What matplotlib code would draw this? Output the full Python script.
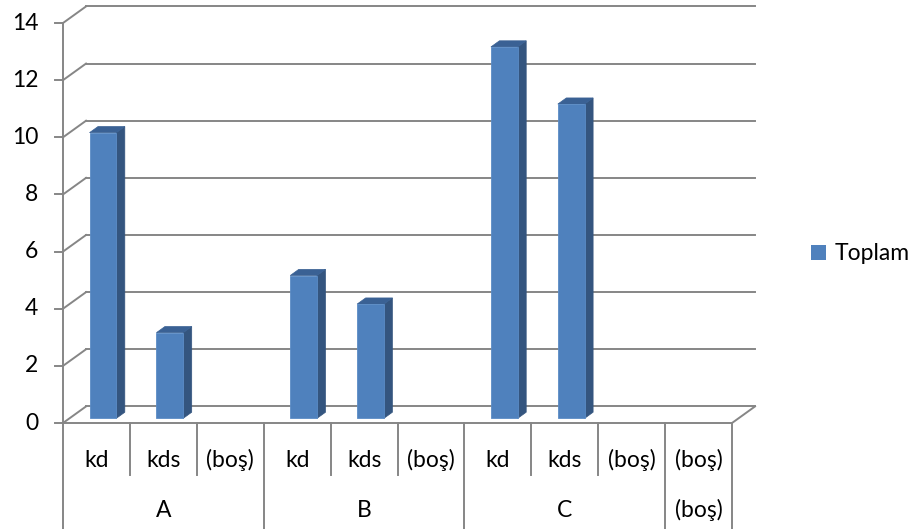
import matplotlib
matplotlib.use("Agg")
import matplotlib.pyplot as plt
from matplotlib.patches import Polygon

plt.rcParams['font.family'] = ['Lato', 'DejaVu Sans']

# data
groups = ['A', 'B', 'C', '(boş)']
subcats = [['kd', 'kds', '(boş)'], ['kd', 'kds', '(boş)'], ['kd', 'kds', '(boş)'], ['(boş)']]
values = [[10, 3, None], [5, 4, None], [13, 11, None], [None]]
yticks = [0, 2, 4, 6, 8, 10, 12, 14]
series_name = 'Toplam'

FRONT = '#4F81BD'
SIDE = '#34557F'
TOP = '#3A6194'
GRID = '#868686'

# depth offset of back wall, in data units
DX, DY = 0.344, 0.58

fig = plt.figure(figsize=(9.2, 5.29), dpi=100)
ax = fig.add_axes([0, 0, 1, 1])
ax.set_xlim(-0.942, 12.81)
ax.set_ylim(-3.71, 14.805)
ax.axis('off')

n = sum(len(s) for s in subcats)
lw = 1.4
fs = 16.5

# gridlines on back wall + diagonals on left wall
for t in yticks:
    ax.plot([DX, n + DX], [t + DY, t + DY], color=GRID, lw=lw, zorder=1)
    ax.plot([0, DX], [t, t + DY], color=GRID, lw=lw, zorder=1)
    ax.plot([-0.12, 0], [t, t], color=GRID, lw=lw, zorder=1)
    ax.text(-0.37, t, str(t), ha='right', va='center', fontsize=fs, color='#000000')

# floor edges
ax.plot([0, n], [0, 0], color=GRID, lw=lw, zorder=1)
ax.plot([n, n + DX], [0, DY], color=GRID, lw=lw, zorder=1)
ax.plot([0, 0], [ax.get_ylim()[0], yticks[-1]], color=GRID, lw=lw, zorder=1)

# bars
d0, d1 = 0.28, 0.65
bw = 0.4
i = 0
for gi, g in enumerate(groups):
    for si, s in enumerate(subcats[gi]):
        v = values[gi][si]
        if v is not None:
            x0 = i + 0.5 - bw / 2
            x1 = x0 + bw
            fx, fy = d0 * DX, d0 * DY
            bx, by = d1 * DX, d1 * DY
            front = [(x0 + fx, fy), (x1 + fx, fy), (x1 + fx, v + fy), (x0 + fx, v + fy)]
            side = [(x1 + fx, fy), (x1 + bx, by), (x1 + bx, v + by), (x1 + fx, v + fy)]
            top = [(x0 + fx, v + fy), (x1 + fx, v + fy), (x1 + bx, v + by), (x0 + bx, v + by)]
            ax.add_patch(Polygon(side, closed=True, facecolor=SIDE, edgecolor=SIDE, lw=0.5, zorder=3))
            ax.add_patch(Polygon(top, closed=True, facecolor=TOP, edgecolor=TOP, lw=0.5, zorder=3))
            ax.add_patch(Polygon(front, closed=True, facecolor=FRONT, edgecolor='#5B8CC6', lw=0.6, zorder=4))
        ax.text(i + 0.5, -1.3, s, ha='center', va='center', fontsize=fs)
        i += 1

# category separators
pos = 0
for gi, g in enumerate(groups):
    k = len(subcats[gi])
    for j in range(1, k):
        ax.plot([pos + j, pos + j], [0, -1.83], color=GRID, lw=lw, zorder=1)
    ax.plot([pos + k, pos + k], [0, ax.get_ylim()[0]], color=GRID, lw=lw, zorder=1)
    ax.text(pos + k / 2, -3.05, g, ha='center', va='center', fontsize=fs)
    pos += k

# legend
leg = ax.legend([Polygon([(0, 0)], facecolor=FRONT)], [series_name], loc='center left',
                bbox_to_anchor=(0.882, 0.52), frameon=False, fontsize=fs,
                handlelength=0.62, handleheight=0.62, handletextpad=0.4,
                borderaxespad=0, borderpad=0)

fig.savefig('out.png', dpi=100)
